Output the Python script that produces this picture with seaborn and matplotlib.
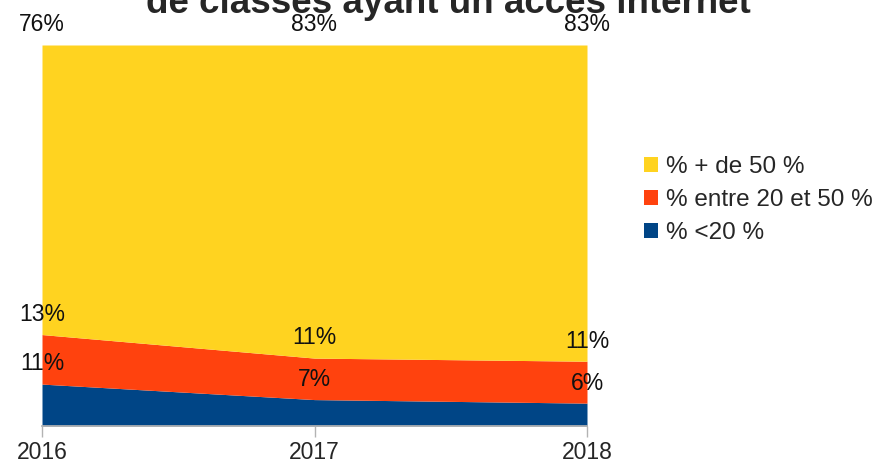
import numpy as np
import matplotlib
matplotlib.use("Agg")
import matplotlib.pyplot as plt
from matplotlib.patches import Patch
import seaborn as sns

# données (en % des classes)
annees = [2016, 2017, 2018]
moins_20 = [11, 7, 6]
entre_20_50 = [13, 11, 11]
plus_50 = [76, 83, 83]

series = ["% <20 %", "% entre 20 et 50 %", "% + de 50 %"]
couleurs = ["#004586", "#ff420e", "#ffd320"]

sns.set_theme(style="white")
plt.rcParams["font.family"] = ["Liberation Sans", "DejaVu Sans"]

fig = plt.figure(figsize=(8.77, 4.65), dpi=100)
ax = fig.add_axes([42 / 877, 1 - 426 / 465, 545 / 877, 381 / 465])

# normalisation à 100 % (graphique empilé en pourcentage)
valeurs = np.array([moins_20, entre_20_50, plus_50], dtype=float)
total = valeurs.sum(axis=0)
parts = valeurs / total * 100
x = np.arange(len(annees))

ax.stackplot(x, parts, colors=couleurs, linewidth=0)

# étiquettes de données au-dessus de chaque bande
cumul = np.cumsum(parts, axis=0)
for i, serie in enumerate(valeurs):
    for j, v in enumerate(serie):
        ax.annotate(f"{int(v)}%", (x[j], cumul[i, j]), xytext=(0, 14.5),
                    textcoords="offset points", ha="center", va="center",
                    fontsize=16.5, color="#111111", annotation_clip=False)

ax.set_xlim(0, 2)
ax.set_ylim(0, 100)
ax.set_xticks(x)
ax.set_xticklabels([str(a) for a in annees], fontsize=16.5)
ax.set_yticks([])
ax.tick_params(axis="x", bottom=True, length=8, width=1, color="#b3b3b3", pad=3)
for s in ["left", "right", "top"]:
    ax.spines[s].set_visible(False)
ax.spines["bottom"].set_color("#b3b3b3")

fig.text(448 / 877, 1 - 13 / 465, "de classes ayant un accès internet",
         ha="center", va="baseline", fontsize=26.5, fontweight="bold")

handles = [Patch(facecolor=c, edgecolor="none") for c in couleurs[::-1]]
fig.legend(handles, series[::-1], loc="center left",
           bbox_to_anchor=(622 / 877, 1 - 200 / 465), frameon=False,
           fontsize=17.5, handlelength=0.6, handleheight=0.6,
           handletextpad=0.3, labelspacing=0.45)

fig.savefig("out.png", dpi=100)
